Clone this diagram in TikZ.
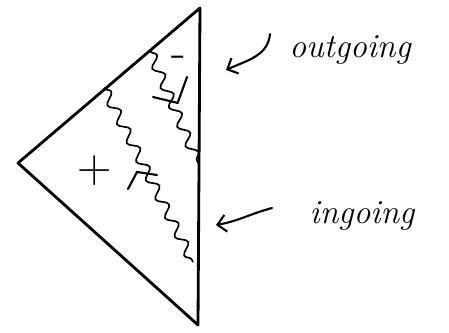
\documentclass[tikz,border=0pt]{standalone}
\usetikzlibrary{decorations.pathmorphing,arrows.meta}

\tikzset{
  edge/.style={line width=2pt, line join=round, line cap=round},
  wiggle/.style={line width=1.2pt, decorate,
    decoration={snake, segment length=15pt, amplitude=3.5pt}},
  tick/.style={line width=1.5pt, line cap=round},
  pointer/.style={line width=1.5pt, line cap=round,
    -{Straight Barb[length=6pt, width=12pt, line width=1.5pt]}},
  hand/.style={font=\fontsize{24}{26}\selectfont\itshape}
}

\begin{document}
\begin{tikzpicture}[x=0.025cm, y=-0.025cm]
\useasboundingbox (0,0) rectangle (449,332);

% the triangle
\coordinate (top) at (200,8);
\coordinate (left) at (18,163);
\coordinate (bottom) at (198,325);
\draw[edge] (top) -- (left) -- (bottom) -- cycle;

% wavy lines
\coordinate (w1a) at (150,51);
\coordinate (w1b) at (198,163);
\coordinate (w2a) at (104,88);
\coordinate (w2b) at (193,262);
\draw[wiggle] (w1a) -- (w1b);
\draw[wiggle] (w2a) -- (w2b);

% marks on the wavy lines
\draw[tick] (187,77) -- (178,102);
\draw[tick] (153,97) -- (178,103);
\draw[tick] (128,189) -- (137,172) -- (157,175);

% signs
\node[font=\fontsize{34}{36}\selectfont] (minus) at (179,62) {-};
\node[font=\fontsize{34}{36}\selectfont] (plus) at (95,171) {+};

% labels
\node[hand] (outgoing) at (350,50) {outgoing};
\node[hand] (ingoing) at (362,216) {ingoing};
\coordinate (outtail) at (270,34);
\coordinate (outhead) at (226,70);
\coordinate (intail) at (272,208);
\coordinate (inhead) at (216,225);
\draw[pointer] (outtail) to[out=-95, in=25] (outhead);
\draw[pointer] (intail) to[out=195, in=10] (inhead);
\end{tikzpicture}
\end{document}
